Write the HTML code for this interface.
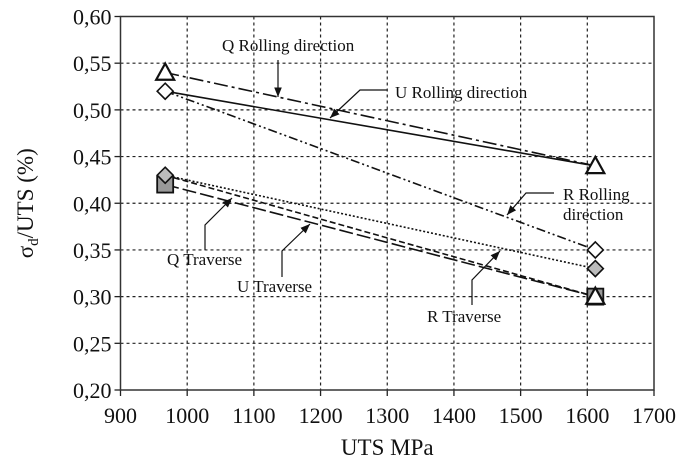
<!DOCTYPE html>
<html><head><meta charset="utf-8"><style>
body{margin:0;background:#fff}
svg text{font-family:"Liberation Serif","DejaVu Serif",serif;fill:#111}
</style></head><body>
<svg id="chart" width="696" height="468" viewBox="0 0 696 468" xmlns="http://www.w3.org/2000/svg">
<defs>
<marker id="ah" viewBox="0 0 10 10" refX="10" refY="5" markerWidth="8" markerHeight="8" orient="auto-start-reverse"><path d="M0,1 L10,5 L0,9 z" fill="#111"/></marker>
</defs>
<g id="grid"></g>
<g id="axes"></g>
<g id="series"></g>
<g id="annotations"></g>
</svg>
<script>
const xTicks=[900,1000,1100,1200,1300,1400,1500,1600,1700];
const yTicks=[0.20,0.25,0.30,0.35,0.40,0.45,0.50,0.55,0.60];
const xValues=[967,1612];
const qRolling=[0.54,0.44];
const uRolling=[0.52,0.44];
const rRolling=[0.52,0.35];
const qTraverse=[0.43,0.33];
const uTraverse=[0.42,0.30];
const rTraverse=[0.43,0.30];

const L=120.5,R=654,T=16.5,B=390;
const xs=v=>L+(v-900)/800*(R-L);
const ys=v=>B-(v-0.20)/0.40*(B-T);
const NS="http://www.w3.org/2000/svg";
function mk(tag,attrs,parent){const e=document.createElementNS(NS,tag);for(const k in attrs)e.setAttribute(k,attrs[k]);parent.appendChild(e);return e;}
const grid=document.getElementById('grid'),axes=document.getElementById('axes'),ser=document.getElementById('series'),ann=document.getElementById('annotations');

xTicks.forEach(t=>{
  const x=xs(t);
  if(t>900&&t<1700){const g=mk('line',{x1:x,x2:x,y1:T,y2:B,stroke:'#222','stroke-width':1.2,'stroke-dasharray':'3,3'},grid);
  
  }
  const tk=mk('line',{x1:x,x2:x,y1:B,y2:B+6,stroke:'#222','stroke-width':1.3},axes);
  
  
  const lb=mk('text',{x:x,y:B+33,'text-anchor':'middle','font-size':22},axes);
  lb.textContent=t;
  
  
});
yTicks.forEach(t=>{
  const y=ys(t);
  if(t>0.2&&t<0.6){const g=mk('line',{x1:L,x2:R,y1:y,y2:y,stroke:'#222','stroke-width':1.2,'stroke-dasharray':'3,3'},grid);
  
  }
  const tk=mk('line',{x1:L-6,x2:L,y1:y,y2:y,stroke:'#222','stroke-width':1.3},axes);
  
  
  const lb=mk('text',{x:L-9,y:y+8,'text-anchor':'end','font-size':22},axes);
  lb.textContent=t.toFixed(2).replace('.',',');
  
  
});
const fr=mk('rect',{x:L,y:T,width:R-L,height:B-T,fill:'none',stroke:'#333','stroke-width':1.5},axes);


const xt=mk('text',{x:(L+R)/2,y:455,'text-anchor':'middle','font-size':23},axes);
xt.textContent='UTS MPa';


const yt=mk('text',{x:0,y:0,'text-anchor':'middle','font-size':23,transform:'translate(33,'+(T+B)/2+') rotate(-90)'},axes);
yt.innerHTML='σ<tspan font-size="15" dy="5">d</tspan><tspan dy="-5">/UTS (%)</tspan>';



const seriesDefs=[
 ['q-rolling-line',qRolling,'14,4,3,4'],
 ['u-rolling-line',uRolling,''],
 ['r-rolling-line',rRolling,'9,3,2,3,2,3'],
 ['q-traverse-line',qTraverse,'2,2'],
 ['u-traverse-line',uTraverse,'14,4'],
 ['r-traverse-line',rTraverse,'6,3'],
];
seriesDefs.forEach(([n,vals,d])=>{
  const l=mk('line',{x1:xs(xValues[0]),y1:ys(vals[0]),x2:xs(xValues[1]),y2:ys(vals[1]),stroke:'#111','stroke-width':1.6,'stroke-dasharray':d},ser);
  
  
});
function tri(x,y,n){const s=9;const p=mk('polygon',{points:`${x},${y-s} ${x-s},${y+s*0.8} ${x+s},${y+s*0.8}`,fill:'#fff',stroke:'#111','stroke-width':2.2},ser);

}
function dia(x,y,fill,n){const s=8;const p=mk('polygon',{points:`${x},${y-s} ${x+s},${y} ${x},${y+s} ${x-s},${y}`,fill:fill,stroke:'#111','stroke-width':1.6},ser);

}
function sq(x,y,n){const p=mk('rect',{x:x-8,y:y-8,width:16,height:16,fill:'#999',stroke:'#111','stroke-width':1.8},ser);

}
const x0=xs(xValues[0]),x1=xs(xValues[1]);
sq(x0,ys(uTraverse[0]),'u-traverse-point-1');
dia(x0,ys(qTraverse[0]),'#bbb','q-traverse-point-1');
tri(x0,ys(qRolling[0]),'q-rolling-point-1');
dia(x0,ys(uRolling[0]),'#fff','u-rolling-point-1');
tri(x1,ys(qRolling[1]),'q-rolling-point-2');
dia(x1,ys(rRolling[1]),'#fff','r-rolling-point-2');
dia(x1,ys(qTraverse[1]),'#bbb','q-traverse-point-2');
sq(x1,ys(uTraverse[1]),'u-traverse-point-2');
tri(x1,ys(rTraverse[1]),'r-traverse-point-2');

const anns=[
 ['q-rolling-label','Q Rolling direction',222,51,'278,60 278,97'],
 ['u-rolling-label','U Rolling direction',395,98,'387,90 360,90 330,118'],
 ['r-rolling-label','R Rolling',563,200,'554,193 526,193 507,215'],
 ['r-rolling-label-2','direction',563,220,''],
 ['r-traverse-label','R Traverse',427,322,'472,305 472,280 500,251'],
 ['q-traverse-label','Q Traverse',167,265,'205,250 205,225 232,198'],
 ['u-traverse-label','U Traverse',237,292,'282,277 282,251 310,224'],
];
anns.forEach(([n,t,x,y,pts])=>{
  const tx=mk('text',{x:x,y:y,'font-size':17},ann);
  tx.textContent=t;
  
  
  if(pts){const p=mk('polyline',{points:pts,fill:'none',stroke:'#111','stroke-width':1.2,'marker-end':'url(#ah)'},ann);
  
  }
});
</script>
</body></html>
